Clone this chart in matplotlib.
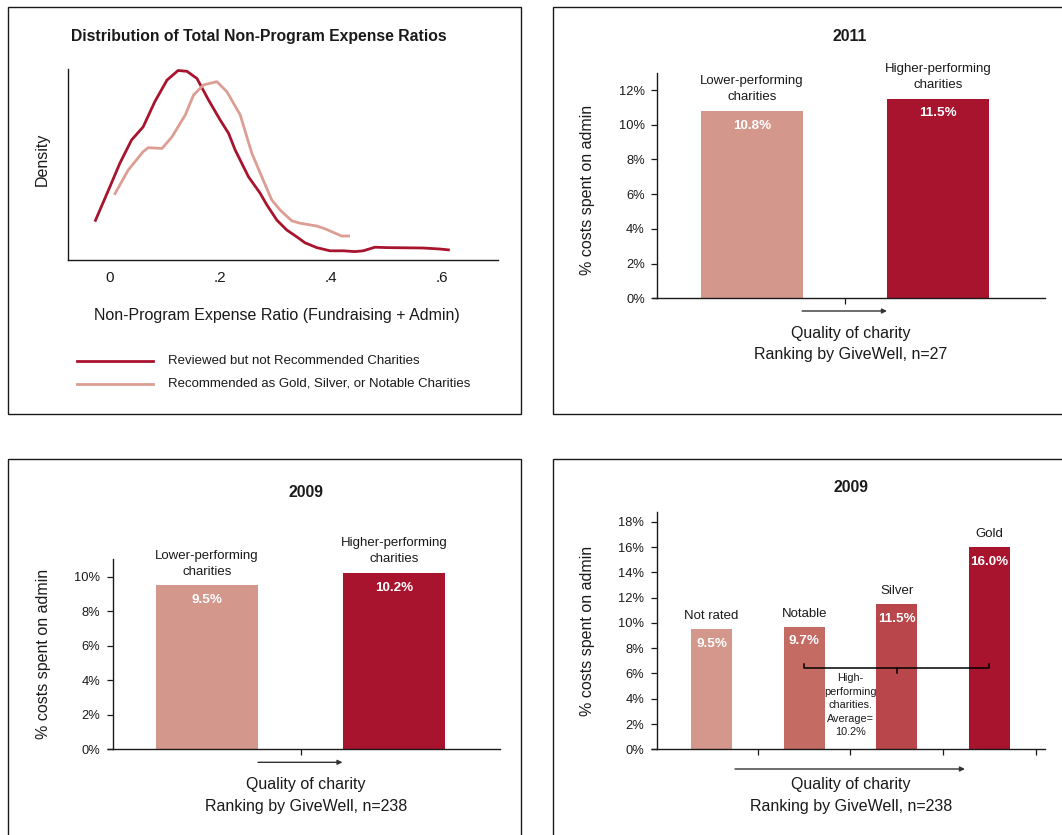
import matplotlib
matplotlib.use('Agg')
import matplotlib.pyplot as plt
from matplotlib.lines import Line2D
from matplotlib.patches import Rectangle

plt.rcParams['font.family'] = ['Liberation Sans', 'DejaVu Sans']

W, H = 1062, 835

# ---------------- data ----------------
reviewed_x = [-0.026, 0.001, 0.019, 0.040, 0.061, 0.082, 0.104, 0.124, 0.140, 0.158,
              0.179, 0.200, 0.215, 0.227, 0.251, 0.272, 0.284, 0.302, 0.320, 0.338,
              0.353, 0.374, 0.398, 0.422, 0.443, 0.458, 0.479, 0.500, 0.566, 0.596, 0.614]
reviewed_y = [0.96, 1.83, 2.42, 3.00, 3.33, 3.96, 4.50, 4.74, 4.72, 4.54,
              4.00, 3.50, 3.17, 2.75, 2.08, 1.67, 1.38, 1.00, 0.75, 0.58,
              0.43, 0.31, 0.23, 0.23, 0.21, 0.23, 0.32, 0.31, 0.30, 0.275, 0.25]
recommended_x = [0.009, 0.034, 0.061, 0.070, 0.095, 0.113, 0.137, 0.152, 0.170, 0.194,
                 0.212, 0.236, 0.257, 0.275, 0.293, 0.308, 0.329, 0.344, 0.374, 0.389,
                 0.419, 0.434]
recommended_y = [1.63, 2.25, 2.71, 2.81, 2.79, 3.08, 3.63, 4.13, 4.38, 4.46,
                 4.21, 3.63, 2.67, 2.08, 1.50, 1.25, 0.98, 0.92, 0.85, 0.78,
                 0.60, 0.60]
ratio_ticks = [0, 0.2, 0.4, 0.6]
ratio_tick_labels = ['0', '.2', '.4', '.6']
legend_labels = ['Reviewed but not Recommended Charities',
                 'Recommended as Gold, Silver, or Notable Charities']

groups = ['Lower-performing\ncharities', 'Higher-performing\ncharities']
admin_2011 = [10.8, 11.5]
admin_2009 = [9.5, 10.2]
ratings = ['Not rated', 'Notable', 'Silver', 'Gold']
admin_2009_by_rating = [9.5, 9.7, 11.5, 16.0]
high_note = 'High-\nperforming\ncharities.\nAverage=\n10.2%'

PINK = '#D4978C'
RED = '#A8132E'
NOTABLE = '#C46B63'
SILVER = '#B8464A'
CURVE_PINK = '#DC9E93'
INK = '#1a1a1a'

LABEL_FS = 11.5
TITLE_FS = 11.3


def fx(px):
    return px / W


def fy(py):
    return 1 - py / H


fig = plt.figure(figsize=(10.62, 8.35), dpi=100)

# panel frames
for (x0, y0, x1, y1) in [(7.5, 7.0, 521.0, 414.0), (552.7, 7.0, 1080.0, 414.0),
                         (7.5, 459.0, 521.0, 860.0), (552.7, 459.0, 1080.0, 860.0)]:
    fig.add_artist(Rectangle((fx(x0), fy(y1)), fx(x1) - fx(x0), fy(y0) - fy(y1),
                             transform=fig.transFigure, fill=False, lw=1.0, ec=INK))


def text(px, py, s, **kw):
    kw.setdefault('ha', 'center')
    kw.setdefault('va', 'center')
    kw.setdefault('color', INK)
    fig.text(fx(px), fy(py), s, **kw)


# ---------------- top-left: density ----------------
ax = fig.add_axes([fx(68.3), fy(260), fx(498.3) - fx(68.3), (260 - 69.3) / H])
ax.plot(reviewed_x, reviewed_y, color=RED, lw=2.0, solid_capstyle='butt', clip_on=False)
ax.plot(recommended_x, recommended_y, color=CURVE_PINK, lw=2.0, solid_capstyle='butt', clip_on=False)
ax.set_xlim(-0.074, 0.7015)
ax.set_ylim(0, 4.77)
ax.set_xticks(ratio_ticks)
ax.set_xticklabels(ratio_tick_labels)
ax.set_yticks([])
ax.tick_params(axis='x', length=0, pad=8, labelsize=11, colors=INK)
for s in ['top', 'right']:
    ax.spines[s].set_visible(False)
for s in ['left', 'bottom']:
    ax.spines[s].set_linewidth(1.0)
    ax.spines[s].set_color(INK)

text(259, 36.7, 'Distribution of Total Non-Program Expense Ratios', fontsize=TITLE_FS, fontweight='bold')
text(42.7, 159, 'Density', fontsize=LABEL_FS, rotation=90)
text(276.8, 315.7, 'Non-Program Expense Ratio (Fundraising + Admin)', fontsize=LABEL_FS)
for py, col, lab in [(361, RED, legend_labels[0]), (384, CURVE_PINK, legend_labels[1])]:
    fig.add_artist(Line2D([fx(76.7), fx(153.3)], [fy(py), fy(py)], transform=fig.transFigure,
                          color=col, lw=2.0))
    text(168.3, py, lab, fontsize=9.5, ha='left')


# ---------------- bar panel helper ----------------
def bar_panel(rect_px, cats, vals, colors, width, xlim, ylim, yticks,
              tick_x, arrow, arrow_y, cat_offset):
    l, t, r, b = rect_px
    ax = fig.add_axes([fx(l), fy(b), fx(r) - fx(l), (b - t) / H])
    xs = list(range(len(vals)))
    ax.bar(xs, vals, width=width, color=colors, edgecolor='none', zorder=2)
    ax.set_xlim(*xlim)
    ax.set_ylim(*ylim)
    ax.set_yticks(yticks)
    ax.set_yticklabels([f'{v:.0f}%' for v in yticks])
    ax.set_xticks(tick_x)
    ax.set_xticklabels([])
    ax.tick_params(axis='y', direction='out', length=4, width=0.9, pad=5, labelsize=9.3, colors=INK)
    ax.tick_params(axis='x', direction='out', length=4.5, width=0.9, colors=INK)
    for s in ['top', 'right']:
        ax.spines[s].set_visible(False)
    for s in ['left', 'bottom']:
        ax.spines[s].set_linewidth(1.0)
        ax.spines[s].set_color(INK)
    # x axis continues under the y ticks
    ax.plot([-5.6 / (fx(r) - fx(l)) / W, 0], [0, 0], transform=ax.transAxes,
            color=INK, lw=1.0, clip_on=False, solid_capstyle='butt')
    for x, v, c in zip(xs, vals, cats):
        ax.annotate(c, xy=(x, v), xytext=(0, cat_offset), textcoords='offset points',
                    ha='center', va='bottom', fontsize=9.5, color=INK, linespacing=1.45)
        ax.annotate(f'{v:.1f}%', xy=(x, v), xytext=(0, -10.6), textcoords='offset points',
                    ha='center', va='center', fontsize=9.7, fontweight='bold', color='white')
    ax.annotate('', xy=(arrow[1], arrow_y), xytext=(arrow[0], arrow_y),
                xycoords=('data', 'axes fraction'), textcoords=('data', 'axes fraction'),
                arrowprops=dict(arrowstyle='-|>', lw=1.0, color='#333333',
                                mutation_scale=7, shrinkA=0, shrinkB=0))
    return ax


# top-right 2011
bar_panel((657.3, 72.7, 1045, 298.3), groups, admin_2011, [PINK, RED], 0.545,
          (-0.507, 1.573), (0, 13), [0, 2, 4, 6, 8, 10, 12], [0.5],
          (0.27, 0.725), -12.7 / 225.6, 5.5)
text(850, 36.7, '2011', fontsize=TITLE_FS, fontweight='bold')
text(587.7, 189.7, '% costs spent on admin', fontsize=LABEL_FS, rotation=90)
text(850.8, 333.3, 'Quality of charity', fontsize=LABEL_FS)
text(850.8, 354.3, 'Ranking by GiveWell, n=27', fontsize=LABEL_FS)

# bottom-left 2009
bar_panel((112.7, 559.3, 500, 749.3), groups, admin_2009, [PINK, RED], 0.545,
          (-0.504, 1.565), (0, 11), [0, 2, 4, 6, 8, 10], [0.5],
          (0.272, 0.7235), -13 / 190.0, 5.5)
text(306, 492.3, '2009', fontsize=TITLE_FS, fontweight='bold')
text(44, 654.3, '% costs spent on admin', fontsize=LABEL_FS, rotation=90)
text(306, 784.3, 'Quality of charity', fontsize=LABEL_FS)
text(306, 806, 'Ranking by GiveWell, n=238', fontsize=LABEL_FS)

# bottom-right 2009 by rating
axr = bar_panel((656.7, 511.7, 1045, 749.3), ratings, admin_2009_by_rating,
                [PINK, NOTABLE, SILVER, RED], 0.442,
                (-0.591, 3.599), (0, 18.8), list(range(0, 19, 2)), [0.5, 1.5, 2.5, 3.5],
                (0.254, 2.735), -19.7 / 237.6, 5.0)
axr.plot([1, 1, 3, 3], [6.75, 6.41, 6.41, 6.75], color='black', lw=1.1, zorder=3)
axr.plot([2, 2], [6.41, 6.0], color='black', lw=1.1, zorder=3)
axr.text(1.5, 3.49, high_note, ha='center', va='center', fontsize=7.8,
         linespacing=1.45, color=INK, zorder=4)
text(850.7, 487.3, '2009', fontsize=TITLE_FS, fontweight='bold')
text(587.7, 630.8, '% costs spent on admin', fontsize=LABEL_FS, rotation=90)
text(850.8, 784.3, 'Quality of charity', fontsize=LABEL_FS)
text(850.8, 806, 'Ranking by GiveWell, n=238', fontsize=LABEL_FS)

fig.savefig('out.png', dpi=100)
